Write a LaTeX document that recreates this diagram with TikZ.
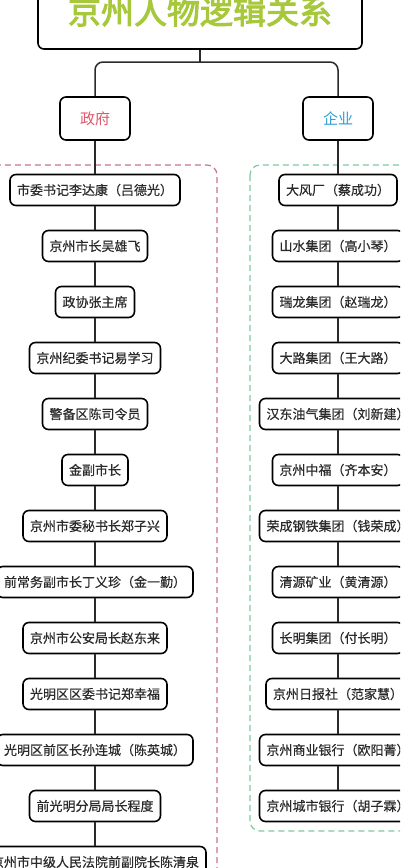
\documentclass[tikz,border=0pt]{standalone}
\usepackage{fontspec}
\setmainfont{Noto Sans CJK SC}
\newfontfamily\cjkbold[FakeBold=3]{Noto Sans CJK SC}
\newfontfamily\cjkmed[FakeBold=0.4]{Noto Sans CJK SC}
\definecolor{titlegreen}{HTML}{A8C83C}
\definecolor{govred}{HTML}{E0566A}
\definecolor{entblue}{HTML}{2A9FD6}
\definecolor{pinkdash}{HTML}{C77595}
\definecolor{greendash}{HTML}{82C9A2}
\definecolor{linegray}{HTML}{2A2A2A}
\tikzset{
  box/.style={draw=black, line width=1.6pt, rounded corners=6pt, fill=white,
    minimum height=31pt, inner xsep=7pt, inner ysep=0pt,
    font=\cjkmed\fontsize{13}{15}\selectfont, text=linegray},
  conn/.style={draw=linegray, line width=1.5pt},
  region/.style={dashed, dash pattern=on 6pt off 4pt, line width=1.2pt, rounded corners=10pt}
}
\begin{document}
\begin{tikzpicture}[x=1pt,y=-1pt]
\clip (0,0) rectangle (400,868);
\fill[white] (0,0) rectangle (400,868);
% regions
\draw[region, draw=pinkdash] (-20,165) rectangle (217,900);
\draw[region, draw=greendash] (250,165) rectangle (420,831);
% title
\node[box, minimum width=324pt, minimum height=76pt, text=titlegreen,
  font=\cjkbold\fontsize{33}{36}\selectfont] (title) at (200,11) {京州人物逻辑关系};
\coordinate (split) at (200,62);
\node[box, minimum width=70pt, minimum height=43pt, text=govred, font=\fontsize{15}{17}\selectfont] (gov) at (95,118.5) {政府};
\node[box, minimum width=70pt, minimum height=43pt, text=entblue, font=\fontsize{15}{17}\selectfont] (ent) at (338,118.5) {企业};
\draw[conn] (title.south) -- (split);
\draw[conn, rounded corners=8pt] (split) -| (gov.north);
\draw[conn, rounded corners=8pt] (split) -| (ent.north);
% left column
\node[box] (L1) at (95,190) {市委书记李达康（吕德光）};
\node[box] (L2) at (95,246) {京州市长吴雄飞};
\node[box] (L3) at (95,302) {政协张主席};
\node[box] (L4) at (95,358) {京州纪委书记易学习};
\node[box] (L5) at (95,414) {警备区陈司令员};
\node[box] (L6) at (95,470) {金副市长};
\node[box] (L7) at (95,526) {京州市委秘书长郑子兴};
\node[box] (L8) at (95,582) {前常务副市长丁义珍（金一勤）};
\node[box] (L9) at (95,638) {京州市公安局长赵东来};
\node[box] (L10) at (95,694) {光明区区委书记郑幸福};
\node[box] (L11) at (95,750) {光明区前区长孙连城（陈英城）};
\node[box] (L12) at (95,806) {前光明分局局长程度};
\node[box] (L13) at (95,862) {京州市中级人民法院前副院长陈清泉};
% right column
\node[box] (R1) at (338,190) {大风厂（蔡成功）};
\node[box] (R2) at (338,246) {山水集团（高小琴）};
\node[box] (R3) at (338,302) {瑞龙集团（赵瑞龙）};
\node[box] (R4) at (338,358) {大路集团（王大路）};
\node[box] (R5) at (338,414) {汉东油气集团（刘新建）};
\node[box] (R6) at (338,470) {京州中福（齐本安）};
\node[box] (R7) at (338,526) {荣成钢铁集团（钱荣成）};
\node[box] (R8) at (338,582) {清源矿业（黄清源）};
\node[box] (R9) at (338,638) {长明集团（付长明）};
\node[box] (R10) at (338,694) {京州日报社（范家慧）};
\node[box] (R11) at (338,750) {京州商业银行（欧阳菁）};
\node[box] (R12) at (338,806) {京州城市银行（胡子霖）};
% connectors
\draw[conn] (gov) -- (L1);
\foreach \a/\b in {1/2,2/3,3/4,4/5,5/6,6/7,7/8,8/9,9/10,10/11,11/12,12/13}
  \draw[conn] (L\a) -- (L\b);
\draw[conn] (ent) -- (R1);
\foreach \a/\b in {1/2,2/3,3/4,4/5,5/6,6/7,7/8,8/9,9/10,10/11,11/12}
  \draw[conn] (R\a) -- (R\b);
\end{tikzpicture}
\end{document}
